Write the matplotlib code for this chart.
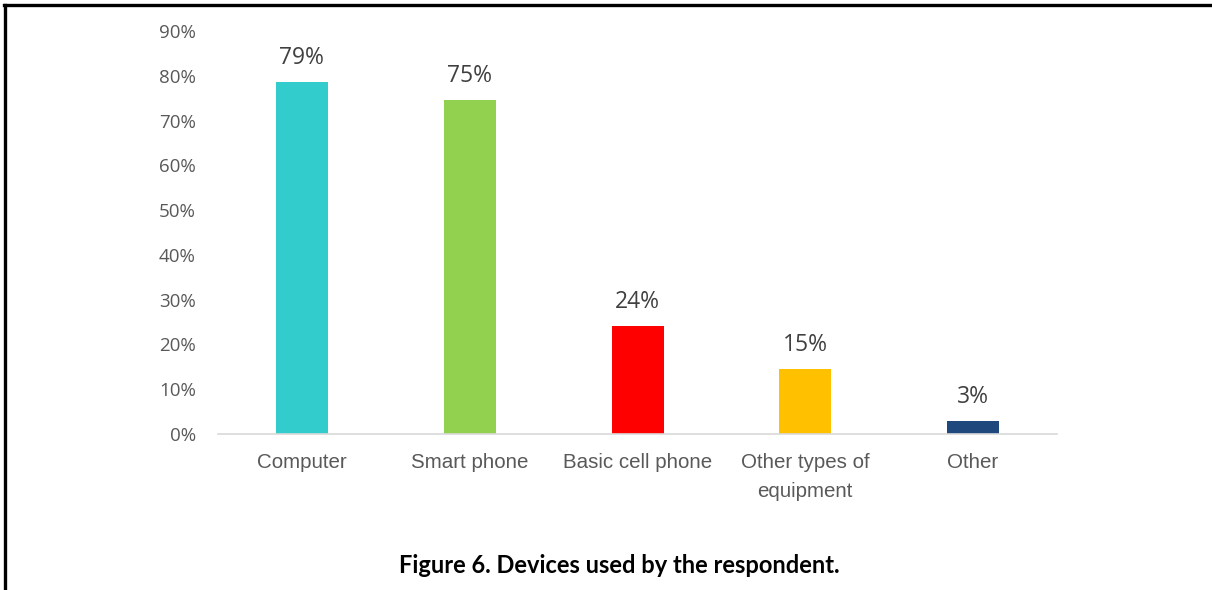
import matplotlib.pyplot as plt
from matplotlib.lines import Line2D

# survey data
devices = ["Computer", "Smart phone", "Basic cell phone",
           "Other types of\nequipment", "Other"]
shares = [78.6, 74.6, 24.2, 14.6, 3.0]
bar_colors = ["#33CCCC", "#92D050", "#FF0000", "#FFC000", "#1F497D"]
yticks = [0, 10, 20, 30, 40, 50, 60, 70, 80, 90]
caption = "Figure 6. Devices used by the respondent."

fig = plt.figure(figsize=(12.12, 5.90), dpi=100)
ax = fig.add_axes([0.1799, 0.2644, 0.6922, 0.6831])

x = range(len(devices))
bars = ax.bar(x, shares, width=0.31, color=bar_colors)

for b, v in zip(bars, shares):
    ax.annotate(f"{v:.0f}%", (b.get_x() + b.get_width() / 2, v),
                xytext=(0, 8.5), textcoords="offset points",
                ha="center", va="bottom", fontsize=16.5,
                color="#404040", family="Open Sans")

ax.set_xlim(-0.5, 4.5)
ax.set_ylim(0, 90)
ax.set_yticks(yticks)
ax.set_yticklabels([f"{t}%" for t in yticks], fontsize=13.5,
                   color="#595959", family="Open Sans")
ax.set_xticks(list(x))
ax.set_xticklabels(devices, fontsize=14.8, color="#595959",
                   family="Liberation Sans", linespacing=1.7)
ax.tick_params(axis="both", length=0)
ax.tick_params(axis="y", pad=16)
ax.tick_params(axis="x", pad=13.5)

for s in ["top", "right", "left"]:
    ax.spines[s].set_visible(False)
ax.spines["bottom"].set_color("#D9D9D9")
ax.spines["bottom"].set_linewidth(1.2)

fig.text(0.511, 0.041, caption, ha="center", va="center",
         fontsize=17, fontweight="bold", family="Lato")

# page frame
fig.add_artist(Line2D([0.0045, 0.0045], [0, 0.992], color="black",
                      lw=2.4, transform=fig.transFigure))
fig.add_artist(Line2D([0.0035, 1.0], [0.991, 0.991], color="black",
                      lw=2.4, transform=fig.transFigure))

fig.savefig("out.png", dpi=100)
